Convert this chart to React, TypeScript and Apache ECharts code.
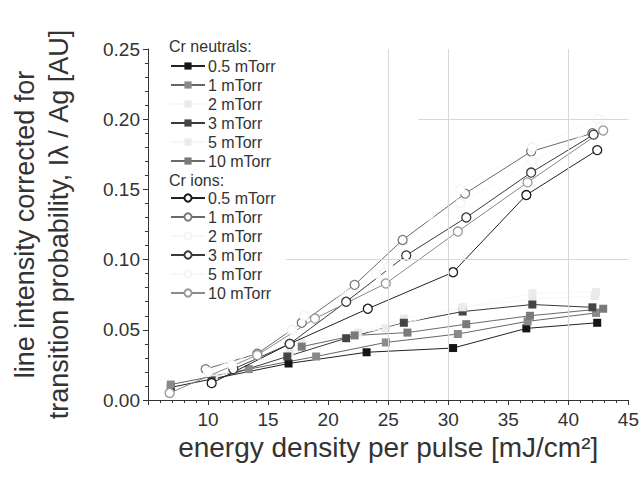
import React, { useEffect, useRef } from "react";
import * as echarts from "echarts";

// ---- data (energy density [mJ/cm²], intensity [AU]) ----
const neutral05 = [[6.9, 0.009], [16.7, 0.026], [23.2, 0.034], [30.4, 0.037], [36.5, 0.051], [42.4, 0.055]];
const neutral1 = [[6.9, 0.011], [13.4, 0.022], [19.0, 0.031], [24.8, 0.041], [30.8, 0.047], [36.6, 0.056], [42.3, 0.062]];
const neutral2 = [[10.5, 0.016], [16.8, 0.034], [22.5, 0.048], [26.3, 0.058], [31.2, 0.066], [37.0, 0.072], [42.2, 0.074]];
const neutral3 = [[10.3, 0.014], [16.6, 0.031], [21.5, 0.044], [26.3, 0.055], [31.2, 0.063], [37.0, 0.068], [42.0, 0.066]];
const neutral5 = [[17.8, 0.041], [24.8, 0.051], [31.2, 0.066], [37.0, 0.076], [42.3, 0.077]];
const neutral10 = [[17.8, 0.038], [22.2, 0.046], [26.6, 0.048], [31.5, 0.054], [36.8, 0.060], [42.9, 0.065]];

const ion05 = [[10.3, 0.012], [16.8, 0.040], [23.3, 0.065], [30.4, 0.091], [36.5, 0.146], [42.4, 0.178]];
const ion1 = [[9.8, 0.022], [14.1, 0.033], [17.8, 0.055], [22.2, 0.082], [26.2, 0.114], [31.4, 0.147], [36.9, 0.177], [42.0, 0.190]];
const ion2 = [[10.0, 0.020], [17.0, 0.050], [24.0, 0.090], [31.0, 0.150], [37.0, 0.180], [42.5, 0.200]];
const ion3 = [[12.1, 0.022], [16.8, 0.040], [21.5, 0.070], [26.5, 0.103], [31.5, 0.130], [36.9, 0.162], [42.1, 0.189]];
const ion5 = [[12.0, 0.025], [18.0, 0.060], [25.0, 0.095], [31.0, 0.140], [37.0, 0.170], [42.7, 0.195]];
const ion10 = [[6.8, 0.005], [14.1, 0.032], [18.9, 0.058], [24.8, 0.083], [30.8, 0.120], [36.6, 0.155], [42.9, 0.192]];

const pressures = ["0.5 mTorr", "1 mTorr", "2 mTorr", "3 mTorr", "5 mTorr", "10 mTorr"];
const neutralData = [neutral05, neutral1, neutral2, neutral3, neutral5, neutral10];
const ionData = [ion05, ion1, ion2, ion3, ion5, ion10];

const xTicks = [10, 15, 20, 25, 30, 35, 40, 45];

const FONT = "'Liberation Sans', Arial, Helvetica, sans-serif";

const neutralFill = ["#151515", "#8a8a8a", "#e9e9e9", "#454545", "#ebebeb", "#7a7a7a"];
const neutralLine = ["#222222", "#666666", "#f7f7f7", "#3a3a3a", "#f7f7f7", "#6a6a6a"];
const ionBorder = ["#1a1a1a", "#7a7a7a", "#f4f4f4", "#3a3a3a", "#f4f4f4", "#9a9a9a"];
const ionLine = ["#222222", "#6a6a6a", "#f8f8f8", "#3a3a3a", "#f8f8f8", "#8a8a8a"];

export default function App() {
  const ref = useRef<HTMLDivElement>(null);

  useEffect(() => {
    if (!ref.current) return;
    const chart = echarts.init(ref.current, undefined, { renderer: "svg" });

    const labelMap: Record<string, string> = {};
    const series: any[] = [];

    pressures.forEach((p, i) => {
      const name = "n" + i;
      labelMap[name] = p;
      series.push({
        name,
        type: "line",
        data: neutralData[i],
        symbol: "rect",
        symbolSize: 8,
        showSymbol: true,
        lineStyle: { color: neutralLine[i], width: 1 },
        itemStyle: { color: neutralFill[i], borderColor: neutralFill[i], borderWidth: 0 },
        z: 3,
      });
    });
    pressures.forEach((p, i) => {
      const name = "i" + i;
      labelMap[name] = p;
      series.push({
        name,
        type: "line",
        data: ionData[i],
        symbol: "circle",
        symbolSize: 9,
        showSymbol: true,
        lineStyle: { color: ionLine[i], width: 1 },
        itemStyle: { color: "#ffffff", borderColor: ionBorder[i], borderWidth: 1.3 },
        z: 4,
      });
    });

    // faint background grid lines
    series.push({
      type: "line",
      data: [],
      silent: true,
      z: 1,
      markLine: {
        silent: true,
        symbol: "none",
        label: { show: false },
        animation: false,
        lineStyle: { color: "#d8d8d8", width: 1, type: "solid" },
        data: [
          [{ coord: [25, 0] }, { coord: [25, 0.25] }],
          [{ coord: [30, 0] }, { coord: [30, 0.25] }],
          [{ coord: [40, 0] }, { coord: [40, 0.25] }],
          [{ coord: [16.5, 0.1] }, { coord: [45, 0.1] }],
          [{ coord: [27.5, 0.2] }, { coord: [45, 0.2] }],
        ],
      },
    });

    const legendCommon = {
      orient: "vertical",
      left: 170,
      itemWidth: 34,
      itemHeight: 9,
      itemGap: 3,
      padding: 0,
      selectedMode: false,
      formatter: (n: string) => labelMap[n],
      textStyle: { fontSize: 16, lineHeight: 16, color: "#333", fontFamily: FONT, padding: [0, 0, 0, -2] },
    };

    chart.setOption({
      animation: false,
      backgroundColor: "#ffffff",
      grid: { left: 146, right: 12, top: 49, bottom: 81, containLabel: false },
      xAxis: {
        type: "value",
        min: 5,
        max: 45,
        interval: 5,
        axisLine: { show: true, lineStyle: { color: "#333", width: 1 } },
        axisTick: { show: true, length: 5, lineStyle: { color: "#333" } },
        minorTick: { show: true, splitNumber: 5, length: 3, lineStyle: { color: "#333" } },
        splitLine: { show: false },
        axisLabel: {
          fontSize: 19,
          color: "#333",
          fontFamily: FONT,
          margin: 10,
          formatter: (v: number) => (xTicks.includes(v) ? String(v) : ""),
        },
        name: "energy density per pulse [mJ/cm²]",
        nameLocation: "middle",
        nameGap: 23,
        nameTextStyle: { fontSize: 28, color: "#333", fontFamily: FONT },
      },
      yAxis: {
        type: "value",
        min: 0,
        max: 0.25,
        interval: 0.05,
        axisLine: { show: true, lineStyle: { color: "#333", width: 1 } },
        axisTick: { show: true, length: 5, lineStyle: { color: "#333" } },
        minorTick: { show: true, splitNumber: 5, length: 3, lineStyle: { color: "#333" } },
        splitLine: { show: false },
        axisLabel: {
          fontSize: 19,
          color: "#333",
          fontFamily: FONT,
          margin: 8,
          formatter: (v: number) => v.toFixed(2),
        },
        name: "line intensity corrected for\ntransition probability, Iλ / Ag [AU]",
        nameLocation: "middle",
        nameGap: 72,
        nameTextStyle: { fontSize: 27, lineHeight: 34, color: "#333", fontFamily: FONT, align: "center" },
      },
      legend: [
        { ...legendCommon, top: 58, data: pressures.map((_, i) => "n" + i) },
        { ...legendCommon, top: 190, data: pressures.map((_, i) => "i" + i) },
      ],
      graphic: [
        {
          type: "text",
          left: 169,
          top: 38,
          style: { text: "Cr neutrals:", fontSize: 16, fill: "#333", fontFamily: FONT },
        },
        {
          type: "text",
          left: 169,
          top: 172,
          style: { text: "Cr ions:", fontSize: 16, fill: "#333", fontFamily: FONT },
        },
      ],
      series,
    });

    return () => chart.dispose();
  }, []);

  return <div ref={ref} style={{ width: 642, height: 481, position: "absolute", left: 0, top: 0 }} />;
}
